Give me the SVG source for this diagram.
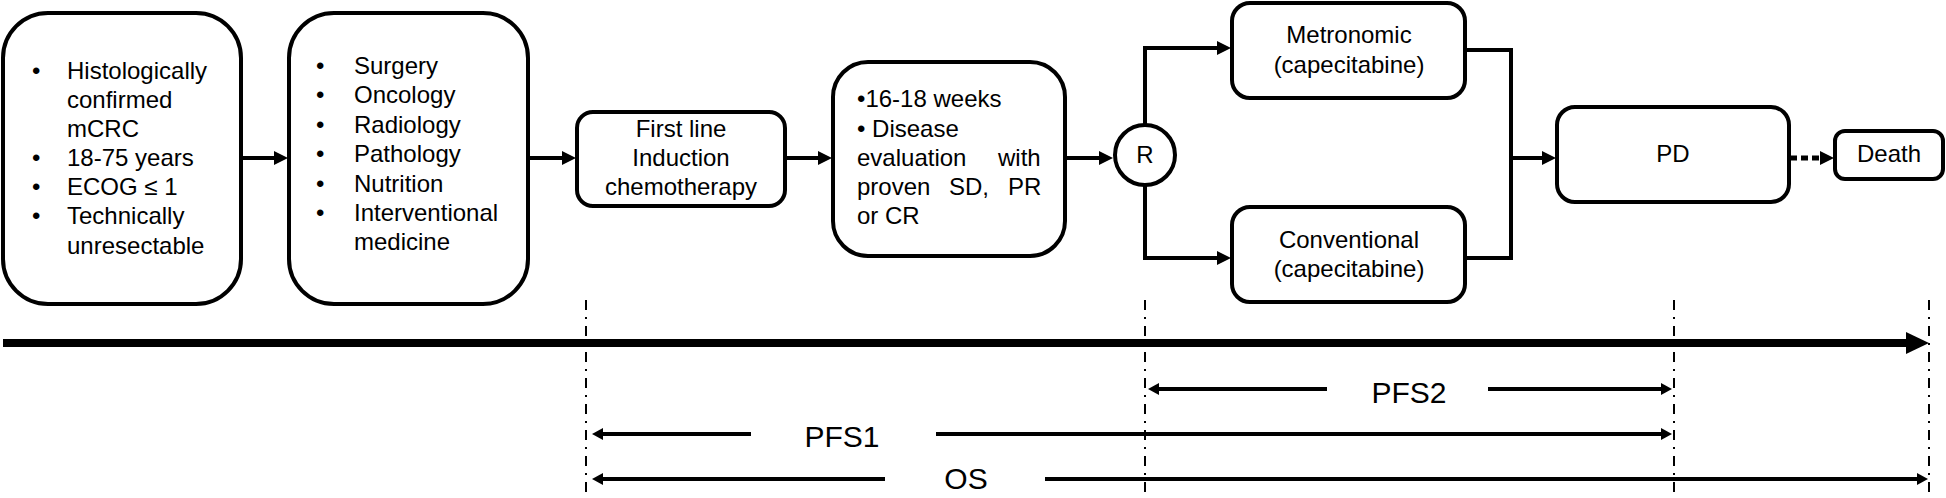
<svg xmlns="http://www.w3.org/2000/svg" width="1946" height="498" viewBox="0 0 1946 498">
<defs>
<style>
.box{fill:#fff;stroke:#000;stroke-width:4}
.t{font-family:"Liberation Sans",Arial,sans-serif;font-size:24px;fill:#000}
.c{text-anchor:middle}
.lbl{font-family:"Liberation Sans",Arial,sans-serif;font-size:30px;fill:#000;text-anchor:middle}
.flow{fill:none;stroke:#000;stroke-width:4}
.vd{fill:none;stroke:#000;stroke-width:2;stroke-dasharray:10 7 2 7}
.span{fill:none;stroke:#000;stroke-width:4}
</style>
<marker id="ah" markerUnits="userSpaceOnUse" markerWidth="16" markerHeight="16" refX="1" refY="7" orient="auto" overflow="visible"><path d="M0,0 L14,7 L0,14 z" fill="#000"/></marker>
<marker id="ahs" markerUnits="userSpaceOnUse" markerWidth="12" markerHeight="14" refX="1" refY="6" orient="auto" overflow="visible"><path d="M0,0 L11,6 L0,12 z" fill="#000"/></marker>
<marker id="ahb" markerUnits="userSpaceOnUse" markerWidth="24" markerHeight="24" refX="1" refY="11" orient="auto" overflow="visible"><path d="M0,0 L23,11 L0,22 z" fill="#000"/></marker>
</defs>

<g id="timeline">
<path d="M3,343 H1907" fill="none" stroke="#000" stroke-width="8" marker-end="url(#ahb)"/>
<path class="vd" d="M586,300 V494"/>
<path class="vd" d="M1145,300 V494"/>
<path class="vd" d="M1674,300 V494"/>
<path class="vd" d="M1929,300 V494"/>
<path class="span" d="M1327,389 H1158" marker-end="url(#ahs)"/>
<path class="span" d="M1488,389 H1662" marker-end="url(#ahs)"/>
<path class="span" d="M751,434 H602" marker-end="url(#ahs)"/>
<path class="span" d="M936,434 H1662" marker-end="url(#ahs)"/>
<path class="span" d="M885,479 H602" marker-end="url(#ahs)"/>
<path class="span" d="M1045,479 H1918" marker-end="url(#ahs)"/>
<text class="lbl" x="1409" y="403">PFS2</text>
<text class="lbl" x="842" y="447">PFS1</text>
<text class="lbl" x="966" y="489">OS</text>
</g>

<g id="connectors">
<path class="flow" d="M241,158 H275" marker-end="url(#ah)"/>
<path class="flow" d="M528,158 H563" marker-end="url(#ah)"/>
<path class="flow" d="M785,158 H819" marker-end="url(#ah)"/>
<path class="flow" d="M1065,158 H1100" marker-end="url(#ah)"/>
<path class="flow" d="M1145,126 V48 H1218" marker-end="url(#ah)"/>
<path class="flow" d="M1145,186 V258 H1218" marker-end="url(#ah)"/>
<path class="flow" d="M1465,50 H1511 V258 H1465"/>
<path class="flow" d="M1511,158 H1543" marker-end="url(#ah)"/>
<path d="M1790,158 H1821" fill="none" stroke="#000" stroke-width="5" stroke-dasharray="7 4" marker-end="url(#ah)"/>
</g>

<g id="n-criteria">
<rect class="box" x="3" y="13" width="238" height="291" rx="45"/>
<text class="t" x="32" y="79">•</text><text class="t" x="67" y="79">Histologically</text>
<text class="t" x="67" y="108">confirmed</text>
<text class="t" x="67" y="137">mCRC</text>
<text class="t" x="32" y="166">•</text><text class="t" x="67" y="166">18-75 years</text>
<text class="t" x="32" y="195">•</text><text class="t" x="67" y="195">ECOG ≤ 1</text>
<text class="t" x="32" y="224">•</text><text class="t" x="67" y="224">Technically</text>
<text class="t" x="67" y="254">unresectable</text>
</g>

<g id="n-mdt">
<rect class="box" x="289" y="13" width="239" height="291" rx="45"/>
<text class="t" x="316" y="74">•</text><text class="t" x="354" y="74">Surgery</text>
<text class="t" x="316" y="103">•</text><text class="t" x="354" y="103">Oncology</text>
<text class="t" x="316" y="133">•</text><text class="t" x="354" y="133">Radiology</text>
<text class="t" x="316" y="162">•</text><text class="t" x="354" y="162">Pathology</text>
<text class="t" x="316" y="192">•</text><text class="t" x="354" y="192">Nutrition</text>
<text class="t" x="316" y="221">•</text><text class="t" x="354" y="221">Interventional</text>
<text class="t" x="354" y="250">medicine</text>
</g>

<g id="n-induction">
<rect class="box" x="577" y="112" width="208" height="94" rx="16"/>
<text class="t c" x="681" y="137">First line</text>
<text class="t c" x="681" y="166">Induction</text>
<text class="t c" x="681" y="195">chemotherapy</text>
</g>

<g id="n-evaluation">
<rect class="box" x="833" y="62" width="232" height="194" rx="35"/>
<text class="t" x="857" y="107">•16-18 weeks</text>
<text class="t" x="857" y="137">• Disease</text>
<text class="t" x="857" y="166">evaluation</text><text class="t" x="998" y="166">with</text>
<text class="t" x="857" y="195">proven</text><text class="t" x="949" y="195">SD,</text><text class="t" x="1008" y="195">PR</text>
<text class="t" x="857" y="224">or CR</text>
</g>

<g id="n-random">
<circle class="box" cx="1145" cy="155" r="30"/>
<text class="t c" x="1145" y="163">R</text>
</g>

<g id="n-metronomic">
<rect class="box" x="1232" y="3" width="233" height="95" rx="18"/>
<text class="t c" x="1349" y="43">Metronomic</text>
<text class="t c" x="1349" y="73">(capecitabine)</text>
</g>

<g id="n-conventional">
<rect class="box" x="1232" y="207" width="233" height="95" rx="18"/>
<text class="t c" x="1349" y="248">Conventional</text>
<text class="t c" x="1349" y="277">(capecitabine)</text>
</g>

<g id="n-pd">
<rect class="box" x="1557" y="107" width="232" height="95" rx="18"/>
<text class="t c" x="1673" y="162">PD</text>
</g>

<g id="n-death">
<rect class="box" x="1835" y="131" width="108" height="48" rx="10"/>
<text class="t c" x="1889" y="162">Death</text>
</g>
</svg>
